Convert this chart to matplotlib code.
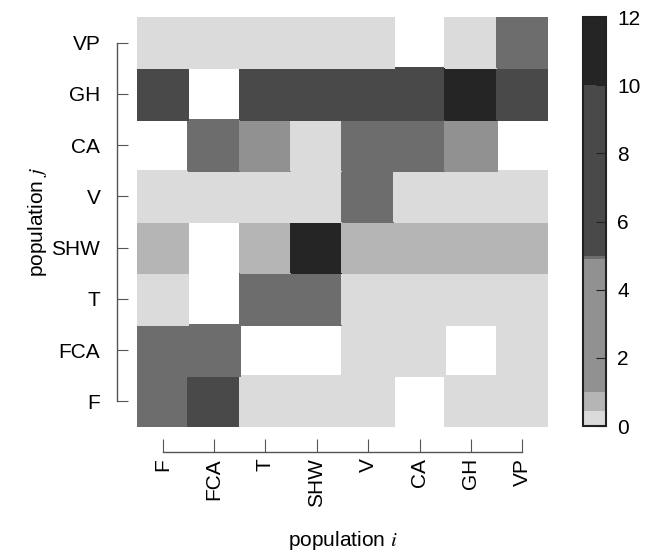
import numpy as np
import matplotlib
matplotlib.use("Agg")
import matplotlib.pyplot as plt
from matplotlib.colors import ListedColormap, BoundaryNorm

plt.rcParams['font.family'] = ['Liberation Sans', 'DejaVu Sans']
plt.rcParams['mathtext.fontset'] = 'stix'

populations = ["F", "FCA", "T", "SHW", "V", "CA", "GH", "VP"]

# rows = population j (bottom to top), columns = population i; nan = empty cell
nan = np.nan
row_F   = [4.95, 7.0, 0.3, 0.3, 0.3, nan, 0.3, 0.3]
row_FCA = [4.95, 4.95, nan, nan, 0.3, 0.3, nan, 0.3]
row_T   = [0.3, nan, 4.95, 4.95, 0.3, 0.3, 0.3, 0.3]
row_SHW = [0.8, nan, 0.8, 11.0, 0.8, 0.8, 0.8, 0.8]
row_V   = [0.3, 0.3, 0.3, 0.3, 4.95, 0.3, 0.3, 0.3]
row_CA  = [nan, 4.95, 3.0, 0.3, 4.95, 4.95, 3.0, nan]
row_GH  = [7.0, nan, 7.0, 7.0, 7.0, 7.0, 11.0, 7.0]
row_VP  = [0.3, 0.3, 0.3, 0.3, 0.3, nan, 0.3, 4.95]

values = np.ma.masked_invalid(np.array([row_F, row_FCA, row_T, row_SHW,
                                        row_V, row_CA, row_GH, row_VP]))

# colour levels
bounds = [0, 0.45, 1.0, 4.9, 5.0, 10, 12]
grays = ["#dbdbdb", "#b5b5b5", "#919191", "#6d6d6d", "#494949", "#252525"]
cmap = ListedColormap(grays)
norm = BoundaryNorm(bounds, cmap.N)

fs = 15

fig = plt.figure(figsize=(6.53, 5.53), dpi=100)
ax = fig.add_axes([0.2098, 0.2278, 0.6294, 0.7414])
cax = fig.add_axes([0.8928, 0.2296, 0.0352, 0.7396])

mesh = ax.pcolormesh(np.arange(9), np.arange(9), values, cmap=cmap, norm=norm,
                     edgecolors="face", linewidth=0.2)
ax.set_xlim(0, 8)
ax.set_ylim(0, 8)

spine_col = "#555555"
for side in ["top", "right"]:
    ax.spines[side].set_visible(False)
# offsets in points (20 px and 25 px at 100 dpi)
ax.spines["left"].set_position(("outward", 14.4))
ax.spines["bottom"].set_position(("outward", 18))

centers = np.arange(8) + 0.5
ax.spines["left"].set_bounds(centers[0], centers[-1])
ax.spines["bottom"].set_bounds(centers[0], centers[-1])
for side in ["left", "bottom"]:
    ax.spines[side].set_color(spine_col)
    ax.spines[side].set_linewidth(1.0)

ax.set_xticks(centers)
ax.set_xticklabels(populations)
ax.set_yticks(centers)
ax.set_yticklabels(populations)
ax.tick_params(axis="y", direction="in", length=8, color=spine_col, pad=12,
               labelsize=fs)
ax.tick_params(axis="x", direction="in", length=9.4, color=spine_col, pad=4.3,
               labelsize=fs, labelrotation=90)

ax.set_xlabel("population $\\mathit{i}$", fontsize=fs, labelpad=16)
ax.set_ylabel("population $\\mathit{j}$", fontsize=fs, labelpad=2)

cb = fig.colorbar(mesh, cax=cax, spacing="proportional", ticks=[0, 2, 4, 6, 8, 10, 12])
cb.minorticks_off()
cb.outline.set_linewidth(1.5)
cb.outline.set_edgecolor("#222222")
cb.ax.tick_params(direction="in", length=7, labelsize=fs, color="#222222", pad=8)
cb.ax.set_yticklabels(["0", "2", "4", "6", "8", "10", "12"])

fig.savefig("out.png", dpi=100)
